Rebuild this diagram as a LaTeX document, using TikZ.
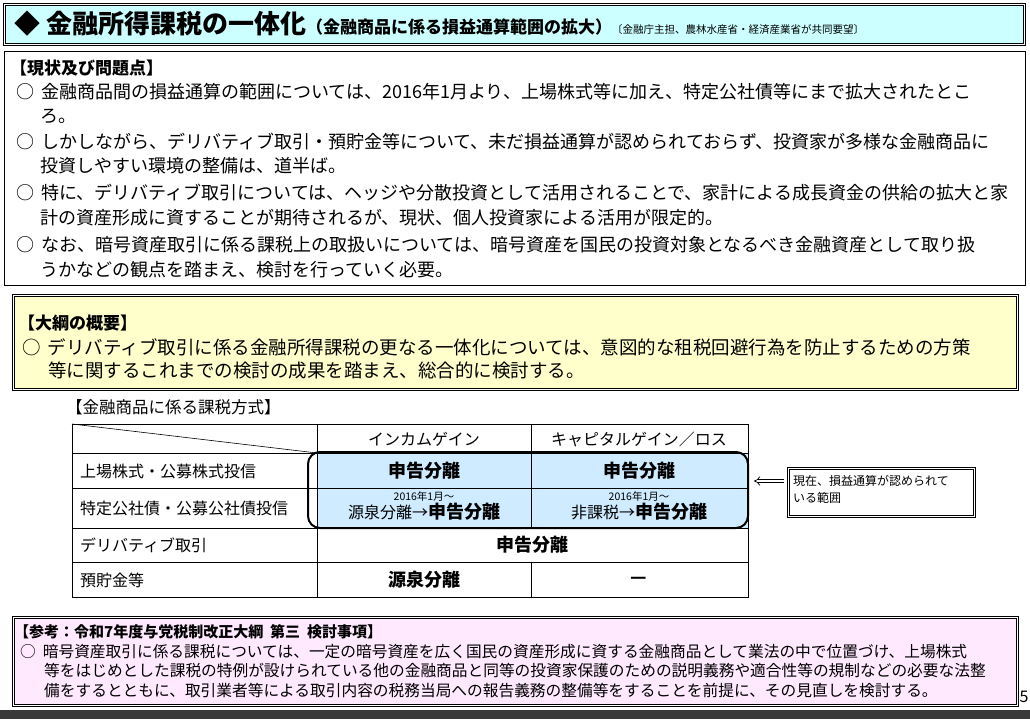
\documentclass[tikz,border=0pt]{standalone}
\usepackage{fontspec}
\setmainfont{Noto Sans CJK JP}
\usetikzlibrary{arrows.meta}
\definecolor{hdr}{HTML}{CCFFFF}
\definecolor{ylw}{HTML}{FFFFCC}
\definecolor{pnk}{HTML}{FFE9FF}
\definecolor{blu}{HTML}{CFEBFF}
\definecolor{bar}{HTML}{3A3A3A}
\newcommand{\mk}{○\hspace{7pt}}
\tikzset{
 tx/.style={anchor=west,inner sep=0pt,font=\fontsize{18}{20}\selectfont},
 ty/.style={anchor=west,inner sep=0pt,font=\fontsize{18.5}{20}\selectfont},
 tp/.style={anchor=west,inner sep=0pt,font=\fontsize{15.7}{18}\selectfont},
 tc/.style={inner sep=0pt,font=\fontsize{16}{18}\selectfont},
 tb/.style={inner sep=0pt,font=\fontsize{18}{20}\selectfont\bfseries},
 dbl/.style={draw=black,double=white,double distance=1.6pt,line width=0.7pt},
}
\begin{document}
\begin{tikzpicture}[x=1pt,y=-1pt]
\useasboundingbox (0,0) rectangle (1030,719);
% header
\node[dbl,fill=hdr,minimum width=1020pt,minimum height=40pt,anchor=north west,inner sep=0pt] (hdrbox) at (4,4) {};
\node[anchor=west,inner sep=0pt] (title) at (14,24) {{\fontsize{26}{28}\selectfont\bfseries ◆ 金融所得課税の一体化}{\fontsize{17}{18}\selectfont\bfseries （金融商品に係る損益通算範囲の拡大）}{\fontsize{10.5}{12}\selectfont 〔金融庁主担、農林水産省・経済産業省が共同要望〕}};
% box 1
\node[draw=black,line width=0.8pt,fill=white,minimum width=1021pt,minimum height=234pt,anchor=north west,inner sep=0pt] (box1) at (4,51) {};
\node[tx,font=\fontsize{17}{20}\selectfont\bfseries] (h1) at (10,68) {【現状及び問題点】};
\node[tx] (a1) at (16,92) {\mk 金融商品間の損益通算の範囲については、2016年1月より、上場株式等に加え、特定公社債等にまで拡大されたとこ};
\node[tx] (a2) at (40,116) {ろ。};
\node[tx] (b1) at (16,142) {\mk しかしながら、デリバティブ取引・預貯金等について、未だ損益通算が認められておらず、投資家が多様な金融商品に};
\node[tx] (b2) at (40,166) {投資しやすい環境の整備は、道半ば。};
\node[tx] (c1) at (16,193) {\mk 特に、デリバティブ取引については、ヘッジや分散投資として活用されることで、家計による成長資金の供給の拡大と家};
\node[tx] (c2) at (40,218) {計の資産形成に資することが期待されるが、現状、個人投資家による活用が限定的。};
\node[tx] (d1) at (16,245) {\mk なお、暗号資産取引に係る課税上の取扱いについては、暗号資産を国民の投資対象となるべき金融資産として取り扱};
\node[tx] (d2) at (40,270) {うかなどの観点を踏まえ、検討を行っていく必要。};
% box 2
\node[dbl,fill=ylw,minimum width=1004pt,minimum height=94pt,anchor=north west,inner sep=0pt] (box2) at (13,295) {};
\node[tx,font=\fontsize{17}{20}\selectfont\bfseries] (h2) at (18,323) {【大綱の概要】};
\node[ty] (e1) at (22,347) {\mk デリバティブ取引に係る金融所得課税の更なる一体化については、意図的な租税回避行為を防止するための方策};
\node[ty] (e2) at (48,370) {等に関するこれまでの検討の成果を踏まえ、総合的に検討する。};
% table
\node[tx,font=\fontsize{16.5}{18}\selectfont] (tt) at (66,407) {【金融商品に係る課税方式】};
\fill[blu] (317,453) rectangle (748,528);
\draw[line width=0.6pt] (72,424) rectangle (748,597);
\draw[line width=0.6pt] (317,424) -- (317,597);
\draw[line width=0.6pt] (531,424) -- (531,528) (531,562) -- (531,597);
\foreach \yy in {453,488,528,562} \draw[line width=0.6pt] (72,\yy) -- (748,\yy);
\draw[line width=0.6pt] (72,424) -- (317,453);
\draw[line width=2pt,rounded corners=12pt] (308,452) rectangle (748,528);
\node[tc] (c11) at (424,439) {インカムゲイン};
\node[tc] (c12) at (639,439) {キャピタルゲイン／ロス};
\node[tc,anchor=west] (r1) at (80,471) {上場株式・公募株式投信};
\node[tc,anchor=west] (r2) at (80,508) {特定公社債・公募公社債投信};
\node[tc,anchor=west] (r3) at (80,545) {デリバティブ取引};
\node[tc,anchor=west] (r4) at (80,580) {預貯金等};
\node[tb] (v11) at (424,471) {申告分離};
\node[tb] (v12) at (639,471) {申告分離};
\node[inner sep=0pt,font=\fontsize{10.5}{12}\selectfont] (s21) at (424,496) {2016年1月～};
\node[inner sep=0pt] (v21) at (424,512) {{\fontsize{16}{18}\selectfont 源泉分離→}{\fontsize{18}{20}\selectfont\bfseries 申告分離}};
\node[inner sep=0pt,font=\fontsize{10.5}{12}\selectfont] (s22) at (639,496) {2016年1月～};
\node[inner sep=0pt] (v22) at (639,512) {{\fontsize{16}{18}\selectfont 非課税→}{\fontsize{18}{20}\selectfont\bfseries 申告分離}};
\node[tb] (v3) at (532,545) {申告分離};
\node[tb] (v41) at (424,580) {源泉分離};
\node[tb] (v42) at (639,580) {—};
% callout
\node[dbl,minimum width=186pt,minimum height=48pt,anchor=north west,inner sep=0pt] (cb) at (788,468) {};
\node[anchor=north west,inner sep=0pt,font=\fontsize{12}{17}\selectfont,align=left] (ct) at (793,475) {現在、損益通算が認められて\\いる範囲};
\draw[double,double distance=2.5pt,line width=0.7pt,-{Implies[length=6pt]}] (cb.west |- 0,481) ++(-4,0) -- ++(-30,0);
% box 3
\node[dbl,fill=pnk,minimum width=1004pt,minimum height=88pt,anchor=north west,inner sep=0pt] (box3) at (13,617) {};
\node[tp,font=\fontsize{15}{18}\selectfont\bfseries] (h3) at (14,632) {【参考：令和7年度与党税制改正大綱\ \ 第三\ \ 検討事項】};
\node[tp] (f1) at (20,652) {\mk 暗号資産取引に係る課税については、一定の暗号資産を広く国民の資産形成に資する金融商品として業法の中で位置づけ、上場株式};
\node[tp] (f2) at (44,671) {等をはじめとした課税の特例が設けられている他の金融商品と同等の投資家保護のための説明義務や適合性等の規制などの必要な法整};
\node[tp] (f3) at (44,691) {備をするとともに、取引業者等による取引内容の税務当局への報告義務の整備等をすることを前提に、その見直しを検討する。};
\node[inner sep=0pt,font=\fontsize{16}{18}\selectfont] (pg) at (1024,697) {5};
\fill[bar] (0,710) rectangle (1030,719);
\end{tikzpicture}
\end{document}
